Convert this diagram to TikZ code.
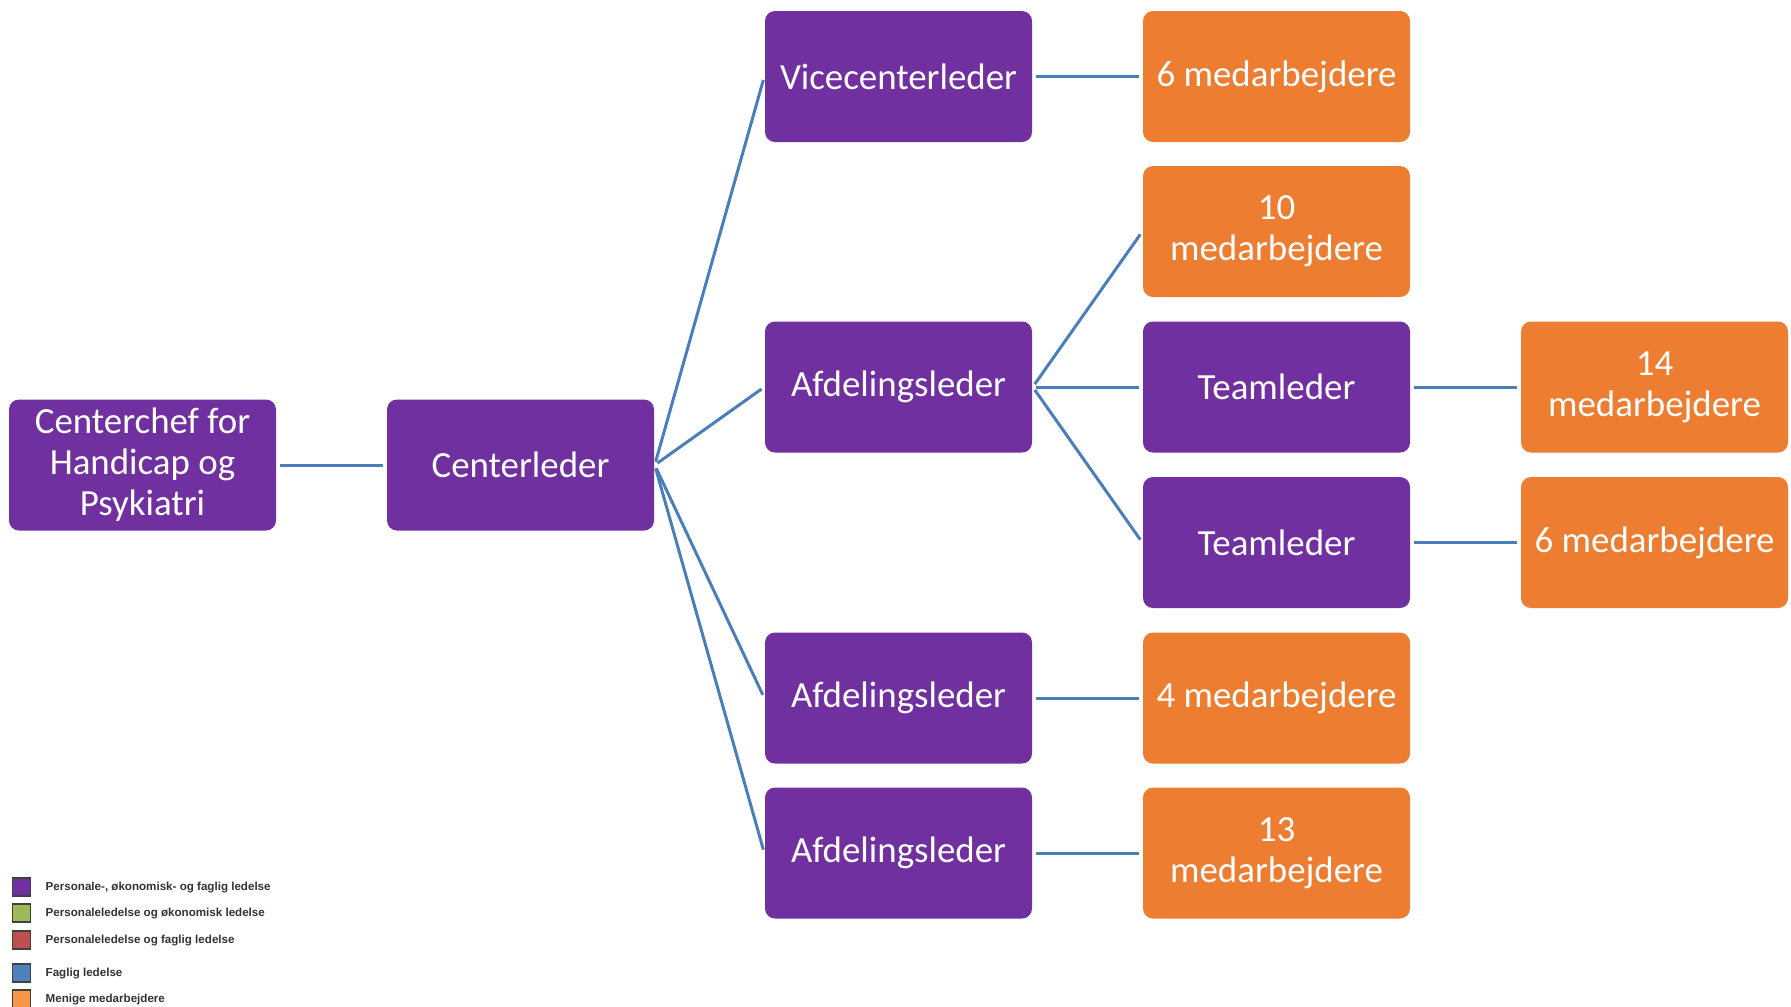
\documentclass[tikz,border=0pt]{standalone}
\usepackage{fontspec}
\setmainfont{Carlito}
\newfontfamily\keyfont{Liberation Sans}
\usepackage{xcolor}
\usepackage{tikz}

\definecolor{lederpurple}{HTML}{7030A0}
\definecolor{staforange}{HTML}{ED7D31}
\definecolor{linkblue}{HTML}{4A7EBB}
\definecolor{keygreen}{HTML}{9BBB59}
\definecolor{keyred}{HTML}{C0504D}
\definecolor{keyblue}{HTML}{4F81BD}
\definecolor{keyorange}{HTML}{F79646}

\begin{document}
\begin{tikzpicture}[node distance=3.78cm]

\tikzstyle{leder} = [rectangle, rounded corners=0.1cm, minimum width=2.67cm, minimum height=1.31cm, inner ysep=0.5pt, text centered, align=center, fill=lederpurple, text=white, font=\fontsize{10.5}{11.7}\selectfont]
\tikzstyle{staff} = [leder, fill=staforange]
\tikzstyle{link} = [draw=linkblue, line width=0.85pt, shorten <=1pt, shorten >=1pt]
\tikzstyle{keybox} = [rectangle, minimum size=0.18cm, inner sep=0pt, draw=black!75, line width=0.4pt]
\tikzstyle{keytext} = [anchor=west, inner sep=0pt, text=black!80, font=\keyfont\bfseries\fontsize{3.3}{4}\selectfont]

\useasboundingbox (0,0) rectangle (17.91,-10.06);

% Nodes
\node (chef) [leder] at (1.425,-4.65) {Centerchef for\\Handicap og\\Psykiatri};
\node (centerleder) [leder, right of=chef] {Centerleder};
\node (vice) [leder, right of=centerleder, yshift=3.885cm] {Vicecenterleder};
\node (afdA) [leder, right of=centerleder, yshift=0.78cm] {Afdelingsleder};
\node (afdB) [leder, right of=centerleder, yshift=-2.33cm] {Afdelingsleder};
\node (afdC) [leder, right of=centerleder, yshift=-3.88cm] {Afdelingsleder};
\node (viceStaff) [staff, right of=vice] {6 medarbejdere};
\node (afdAStaff) [staff, right of=afdA, yshift=1.555cm] {10\\medarbejdere};
\node (teamA) [leder, right of=afdA] {Teamleder};
\node (teamB) [leder, right of=afdA, yshift=-1.555cm] {Teamleder};
\node (teamAStaff) [staff, right of=teamA] {14\\medarbejdere};
\node (teamBStaff) [staff, right of=teamB] {6 medarbejdere};
\node (afdBStaff) [staff, right of=afdB] {4 medarbejdere};
\node (afdCStaff) [staff, right of=afdC] {13\\medarbejdere};

% Connectors
\draw [link] (chef) -- (centerleder);
\draw [link] (centerleder.east) -- (vice.west);
\draw [link] (centerleder.east) -- (afdA.west);
\draw [link] (centerleder.east) -- (afdB.west);
\draw [link] (centerleder.east) -- (afdC.west);
\draw [link] (vice) -- (viceStaff);
\draw [link] (afdA.east) -- (afdAStaff.west);
\draw [link] (afdA.east) -- (teamA.west);
\draw [link] (afdA.east) -- (teamB.west);
\draw [link] (teamA) -- (teamAStaff);
\draw [link] (teamB) -- (teamBStaff);
\draw [link] (afdB) -- (afdBStaff);
\draw [link] (afdC) -- (afdCStaff);

% Legend
\node (keyA) [keybox, fill=lederpurple] at (0.215,-8.87) {};
\node (keyB) [keybox, fill=keygreen] at (0.215,-9.13) {};
\node (keyC) [keybox, fill=keyred] at (0.215,-9.40) {};
\node (keyD) [keybox, fill=keyblue] at (0.215,-9.73) {};
\node (keyE) [keybox, fill=keyorange] at (0.215,-9.99) {};
\node (keyAtext) [keytext] at (0.45,-8.87) {Personale-, økonomisk- og faglig ledelse};
\node (keyBtext) [keytext] at (0.45,-9.13) {Personaleledelse og økonomisk ledelse};
\node (keyCtext) [keytext] at (0.45,-9.40) {Personaleledelse og faglig ledelse};
\node (keyDtext) [keytext] at (0.45,-9.73) {Faglig ledelse};
\node (keyEtext) [keytext] at (0.45,-9.99) {Menige medarbejdere};

\end{tikzpicture}
\end{document}
